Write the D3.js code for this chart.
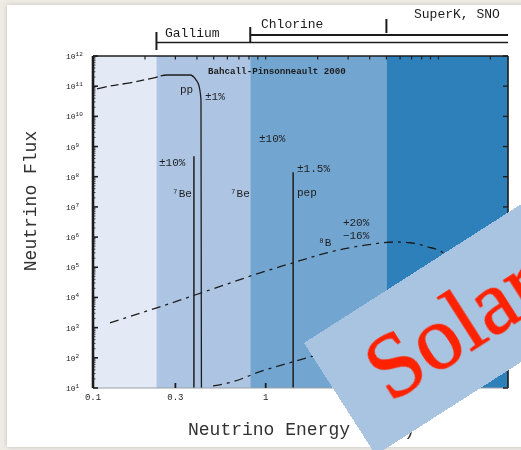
<!DOCTYPE html>
<html>
<head>
<meta charset="utf-8">
<script src="https://cdn.jsdelivr.net/npm/d3@7"></script>
<style>
  html, body { margin: 0; padding: 0; background: #eeebe5; }
  svg { display: block; }
</style>
</head>
<body>
<svg id="chart" width="521" height="450"></svg>
<script>
// ---- data: solar neutrino spectrum (Bahcall-Pinsonneault 2000) ----
// energy band edges in MeV (axis start, Ga threshold, Cl threshold, SK/SNO threshold, axis end)
const bandEdges = [0.1, 0.233, 0.814, 5.0, 25.3];
const detectorNames = ["Gallium", "Chlorine", "SuperK, SNO"];
const detectorThresholds = [0.233, 0.814, 5.0];

// continuum spectra: [energy MeV, flux per MeV]
const ppSpectrum = [
  [0.1055, 8.1e10], [0.1254, 1.02e11], [0.1638, 1.29e11], [0.2226, 1.86e11],
  [0.268, 2.35e11], [0.3644, 2.35e11], [0.3948, 1.62e11], [0.411, 1.02e11],
  [0.422, 3.5e10], [0.4245, 10]
];
const b8Spectrum = [
  [0.1254, 1.45e3], [0.244, 4.9e3], [0.476, 1.78e4], [0.927, 6.5e4],
  [1.44, 1.41e5], [2.36, 3.2e5], [3.86, 5.5e5], [5.61, 6.9e5],
  [6.85, 6.5e5], [8.59, 4.8e5], [10.5, 3.2e5], [12.5, 1.2e5],
  [13.9, 2.6e4], [14.6, 1e3]
];
const hepSpectrum = [
  [0.496, 11.7], [0.647, 16.2], [0.927, 34.7], [1.44, 74], [1.80, 107],
  [3.0, 224], [6.0, 500], [10.0, 708], [15.0, 398], [18.0, 63]
];

// monoenergetic lines: energy MeV, flux per cm^2 s
const lineNames = ["7Be", "pep"];
const lineEnergies = [0.384, 1.442];
const lineFluxes = [4.77e8, 1.40e8];

// annotations placed in data space: [text, energy MeV, flux]
const notes = [
  ["Bahcall-Pinsonneault 2000", 0.4636, 2.95e11],
  ["pp", 0.319, 7.4e10],
  ["\u00b11%", 0.445, 4.4e10],
  ["\u00b110%", 0.241, 2.9e8],
  ["\u2077Be", 0.287, 2.7e7],
  ["\u2077Be", 0.621, 2.7e7],
  ["\u00b110%", 0.915, 1.78e9],
  ["\u00b11.5%", 1.518, 1.82e8],
  ["pep", 1.518, 2.9e7],
  ["+20%", 2.80, 2.95e6],
  ["\u221216%", 2.80, 1.1e6],
  ["\u2078B", 2.01, 6.5e5]
];

// axis ticks
const yTickExponents = [1, 2, 3, 4, 5, 6, 7, 8, 9, 10, 11, 12];
const xTickValues = [0.1, 0.3, 1, 3, 10];
const xTickLabels = ["0.1", "0.3", "1", "3", "10"];
const xTitle = "Neutrino Energy (MeV)";
const yTitle = "Neutrino Flux";
const bannerText = "Solar";

// ---- styles ----
const bandColors = ["#e3eaf5", "#adc4e2", "#72a5d0", "#2f80ba"];
const ink = "#1e1e1e";
const mono = "'Liberation Mono', 'DejaVu Sans Mono', monospace";

const svg = d3.select("#chart");
const defs = svg.append("defs");
defs.append("filter").attr("id", "soft")
  .append("feGaussianBlur").attr("stdDeviation", 0.55);
const sh = defs.append("filter").attr("id", "shadow")
  .attr("x", "-5%").attr("y", "-5%").attr("width", "110%").attr("height", "110%");
sh.append("feDropShadow").attr("dx", 0).attr("dy", 0)
  .attr("stdDeviation", 2).attr("flood-color", "#000").attr("flood-opacity", 0.18);

// card
svg.append("rect").attr("x", 7).attr("y", 5).attr("width", 530).attr("height", 442)
  .attr("fill", "#ffffff").attr("filter", "url(#shadow)");

const plot = { left: 93, right: 508, top: 56, bottom: 388 };
const x = d3.scaleLog().domain([bandEdges[0], bandEdges[bandEdges.length - 1]])
  .range([plot.left, plot.right]);
const y = d3.scaleLog().domain([10, 1e12]).range([plot.bottom, plot.top]);

const g = svg.append("g").attr("filter", "url(#soft)");

// threshold bands
g.selectAll("rect.band").data(d3.range(bandEdges.length - 1)).join("rect")
  .attr("class", "band")
  .attr("x", i => x(bandEdges[i]))
  .attr("y", plot.top)
  .attr("width", i => x(bandEdges[i + 1]) - x(bandEdges[i]))
  .attr("height", plot.bottom - plot.top)
  .attr("fill", i => bandColors[i]);

const clip = defs.append("clipPath").attr("id", "plotclip");
clip.append("rect").attr("x", plot.left).attr("y", plot.top)
  .attr("width", plot.right - plot.left).attr("height", plot.bottom - plot.top);

const curves = g.append("g").attr("clip-path", "url(#plotclip)");
const line = d3.line().x(d => x(d[0])).y(d => y(d[1])).curve(d3.curveMonotoneX);

// pp: dashed on the rising part, solid toward the endpoint
curves.append("path").datum(ppSpectrum)
  .attr("d", line).attr("fill", "none").attr("stroke", ink).attr("stroke-width", 1.3)
  .attr("stroke-dasharray", "10,4,8,4,10,4,8,4,10,3,3000");

curves.append("path").datum(b8Spectrum)
  .attr("d", line).attr("fill", "none").attr("stroke", ink).attr("stroke-width", 1.3)
  .attr("stroke-dasharray", "9,5,3,5");

curves.append("path").datum(hepSpectrum)
  .attr("d", line).attr("fill", "none").attr("stroke", ink).attr("stroke-width", 1.3)
  .attr("stroke-dasharray", "9,5,3,5");

// line sources
curves.selectAll("line.src").data(lineEnergies).join("line")
  .attr("class", "src")
  .attr("x1", d => x(d)).attr("x2", d => x(d))
  .attr("y1", (d, i) => y(lineFluxes[i])).attr("y2", plot.bottom)
  .attr("stroke", ink).attr("stroke-width", 1.5);

// annotations
g.selectAll("text.note").data(notes).join("text")
  .attr("class", "note")
  .attr("x", d => x(d[1])).attr("y", d => y(d[2]))
  .attr("dominant-baseline", "middle")
  .attr("font-family", mono)
  .attr("font-size", (d, i) => i === 0 ? 9.2 : 11)
  .attr("font-weight", (d, i) => i === 0 ? "bold" : "normal")
  .attr("fill", ink)
  .text(d => d[0]);

// frame
g.append("line").attr("x1", plot.left).attr("x2", plot.right)
  .attr("y1", plot.top).attr("y2", plot.top).attr("stroke", ink).attr("stroke-width", 1.6);
g.append("line").attr("x1", plot.right).attr("x2", plot.right)
  .attr("y1", plot.top).attr("y2", plot.bottom).attr("stroke", ink).attr("stroke-width", 1.6);
g.append("line").attr("x1", plot.left).attr("x2", plot.right)
  .attr("y1", plot.bottom).attr("y2", plot.bottom).attr("stroke", "#9aa0a8").attr("stroke-width", 1);
g.append("line").attr("x1", plot.left).attr("x2", plot.left)
  .attr("y1", plot.top).attr("y2", plot.bottom).attr("stroke", ink).attr("stroke-width", 2.6);

// left axis ticks (major + minor, pointing inward)
const yMinor = [];
yTickExponents.forEach(e => { if (e < 12) for (let k = 2; k <= 9; k++) yMinor.push(k * Math.pow(10, e)); });
g.selectAll("line.ymin").data(yMinor).join("line").attr("class", "ymin")
  .attr("x1", plot.left).attr("x2", plot.left + 2.5)
  .attr("y1", d => y(d)).attr("y2", d => y(d)).attr("stroke", ink).attr("stroke-width", 0.8);
g.selectAll("line.ymaj").data(yTickExponents).join("line").attr("class", "ymaj")
  .attr("x1", plot.left).attr("x2", plot.left + 5)
  .attr("y1", d => y(Math.pow(10, d))).attr("y2", d => y(Math.pow(10, d)))
  .attr("stroke", ink).attr("stroke-width", 1.6);
g.selectAll("line.yr").data(yTickExponents).join("line").attr("class", "yr")
  .attr("x1", plot.right - 5).attr("x2", plot.right)
  .attr("y1", d => y(Math.pow(10, d))).attr("y2", d => y(Math.pow(10, d)))
  .attr("stroke", ink).attr("stroke-width", 1.4);

// y tick labels 10^n
const yl = g.selectAll("text.ylab").data(yTickExponents).join("text").attr("class", "ylab")
  .attr("x", plot.left - 27).attr("y", d => y(Math.pow(10, d)) + 3)
  .attr("font-family", mono).attr("font-size", 8).attr("fill", ink);
yl.append("tspan").text("10");
yl.append("tspan").attr("dy", -3).attr("font-size", 6).text(d => d);

// x ticks: inward at bottom, minor ticks along top
g.selectAll("line.xb").data(xTickValues).join("line").attr("class", "xb")
  .attr("x1", d => x(d)).attr("x2", d => x(d))
  .attr("y1", plot.bottom - 5).attr("y2", plot.bottom)
  .attr("stroke", ink).attr("stroke-width", 1.8);
const xMinor = x.ticks().filter(v => v > bandEdges[0] && v < bandEdges[bandEdges.length - 1]);
g.selectAll("line.xt").data(xMinor).join("line").attr("class", "xt")
  .attr("x1", d => x(d)).attr("x2", d => x(d))
  .attr("y1", plot.top).attr("y2", plot.top + 3.5)
  .attr("stroke", ink).attr("stroke-width", 1.2);
g.selectAll("text.xlab").data(xTickValues).join("text").attr("class", "xlab")
  .attr("x", d => x(d)).attr("y", plot.bottom + 12)
  .attr("text-anchor", "middle").attr("font-family", mono).attr("font-size", 9)
  .attr("fill", ink).text((d, i) => xTickLabels[i]);

// detector threshold brackets above the plot
const bracketRows = [42.5, 35, 26];     // baseline row of each detector bracket
const tickSpan = [[32, 50], [27, 43], [19, 33]];
detectorThresholds.forEach((t, i) => {
  g.append("line").attr("x1", x(t)).attr("x2", x(t))
    .attr("y1", tickSpan[i][0]).attr("y2", tickSpan[i][1])
    .attr("stroke", ink).attr("stroke-width", 2);
  if (i < 2) {
    g.append("line").attr("x1", x(t)).attr("x2", plot.right)
      .attr("y1", bracketRows[i]).attr("y2", bracketRows[i])
      .attr("stroke", ink).attr("stroke-width", i === 0 ? 1.3 : 1.8);
  }
});
const labelRows = [34, 25, 15];
const labelStart = [165, 261, 414];
g.selectAll("text.det").data(detectorNames).join("text").attr("class", "det")
  .attr("x", (d, i) => labelStart[i]).attr("y", (d, i) => labelRows[i])
  .attr("dominant-baseline", "middle")
  .attr("font-family", mono).attr("font-size", 13).attr("fill", ink)
  .text(d => d);

// axis titles
g.append("text").attr("x", 188).attr("y", 435)
  .attr("font-family", mono).attr("font-size", 18).attr("fill", "#333")
  .text(xTitle);
g.append("text")
  .attr("transform", "translate(36,201) rotate(-90)")
  .attr("text-anchor", "middle")
  .attr("font-family", mono).attr("font-size", 18).attr("fill", "#333")
  .text(yTitle);

// diagonal banner
const banner = svg.append("g").attr("transform", "translate(304,343) rotate(-32.6)");
banner.append("rect").attr("x", 0).attr("y", 0).attr("width", 420).attr("height", 133)
  .attr("fill", "#a9c4e1");
banner.append("text").attr("x", 40).attr("y", 97)
  .attr("font-family", "'Liberation Serif', 'DejaVu Serif', serif")
  .attr("font-size", 90).attr("fill", "#ff2200")
  .attr("stroke", "#ff2200").attr("stroke-width", 1)
  .text(bannerText);
</script>
</body>
</html>
